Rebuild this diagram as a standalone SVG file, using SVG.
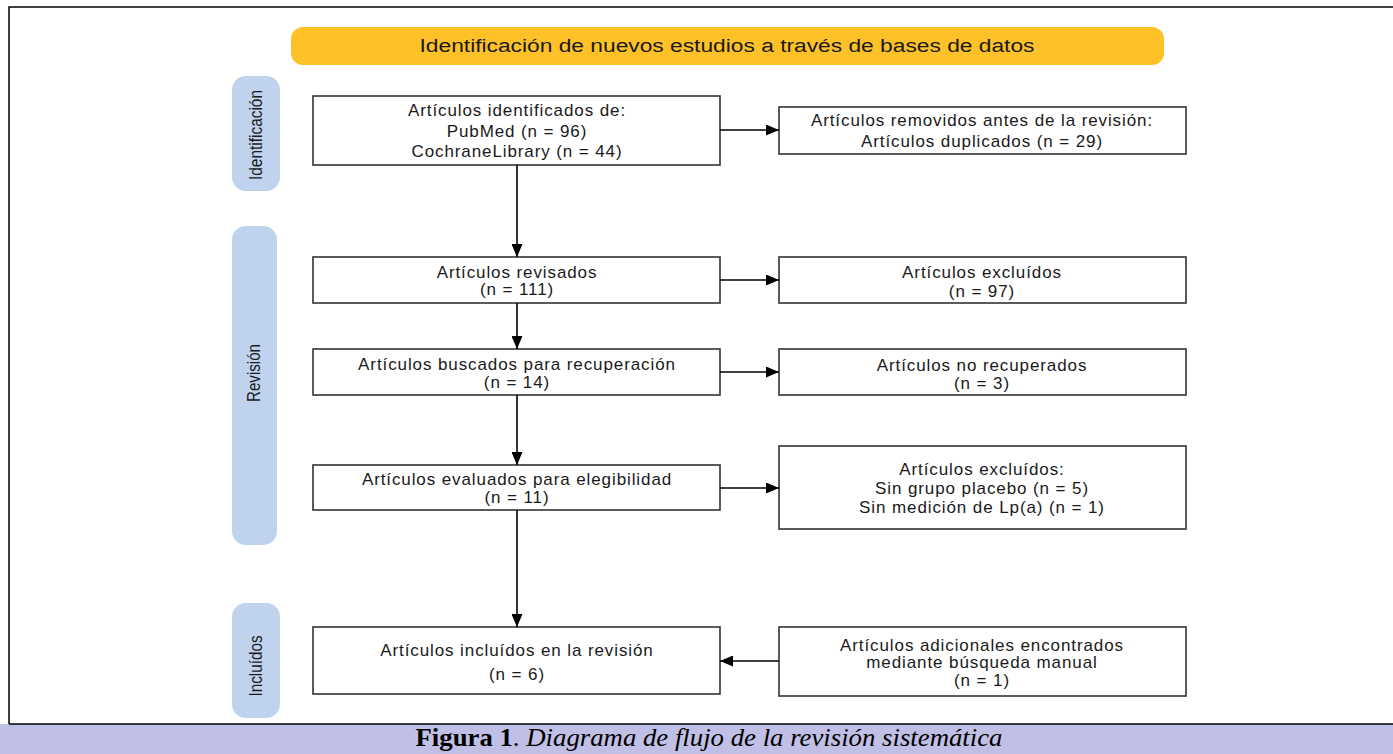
<svg xmlns="http://www.w3.org/2000/svg" width="1393" height="754" viewBox="0 0 1393 754">
<defs>
<marker id="ah" viewBox="0 0 13 11" refX="13" refY="5.5" markerWidth="13" markerHeight="11" markerUnits="userSpaceOnUse" orient="auto">
<path d="M0,0 L13,5.5 L0,11 Z" fill="#000"/>
</marker>
<style>
.box{fill:#fff;stroke:#333;stroke-width:1.6}
.t{font-family:"Liberation Sans",Arial,sans-serif;font-size:17px;letter-spacing:0.9px;fill:#1a1a1a;text-anchor:middle}
.side{fill:#bfd3ee}
.st{font-family:"Liberation Sans",Arial,sans-serif;font-size:18px;fill:#1a1a1a;text-anchor:middle}
.c{stroke:#000;stroke-width:1.6;fill:none;marker-end:url(#ah)}
</style>
</defs>
<rect x="0" y="0" width="1393" height="754" fill="#fff"/>
<rect x="9" y="7" width="1390" height="740" fill="none" stroke="#000" stroke-width="1.5"/>
<rect x="0" y="724" width="1393" height="30" fill="#c0bfe6"/>
<line x1="9" y1="724" x2="1393" y2="724" stroke="#000" stroke-width="1.5"/>
<text x="709" y="746" font-family="'Liberation Serif','Times New Roman',serif" font-size="25" text-anchor="middle" fill="#000" textLength="587" lengthAdjust="spacingAndGlyphs"><tspan font-weight="bold">Figura 1</tspan>. <tspan font-style="italic">Diagrama de flujo de la revisión sistemática</tspan></text>

<g id="banner">
<rect x="291" y="27" width="873" height="38" rx="12" fill="#fec127"/>
<text x="727" y="52" class="st" font-size="20" textLength="615" lengthAdjust="spacingAndGlyphs">Identificación de nuevos estudios a través de bases de datos</text>
</g>

<g id="side-identificacion">
<rect class="side" x="232" y="76" width="48" height="115" rx="14"/>
<text class="st" transform="translate(262,135) rotate(-90)" textLength="90" lengthAdjust="spacingAndGlyphs">Identificación</text>
</g>
<g id="side-revision">
<rect class="side" x="232" y="226" width="45" height="319" rx="14"/>
<text class="st" transform="translate(260,373) rotate(-90)" textLength="58" lengthAdjust="spacingAndGlyphs">Revisión</text>
</g>
<g id="side-incluidos">
<rect class="side" x="232" y="603" width="48" height="115" rx="14"/>
<text class="st" transform="translate(262,666) rotate(-90)" textLength="61" lengthAdjust="spacingAndGlyphs">Incluídos</text>
</g>

<g id="n1">
<rect class="box" x="313" y="96" width="407" height="69"/>
<text class="t" x="517" y="116">Artículos identificados de:</text>
<text class="t" x="517" y="137">PubMed (n = 96)</text>
<text class="t" x="517" y="157">CochraneLibrary (n = 44)</text>
</g>
<g id="n1r">
<rect class="box" x="779" y="107" width="407" height="47"/>
<text class="t" x="982" y="126">Artículos removidos antes de la revisión:</text>
<text class="t" x="982" y="147">Artículos duplicados (n = 29)</text>
</g>
<g id="n2">
<rect class="box" x="313" y="257" width="407" height="46"/>
<text class="t" x="517" y="278">Artículos revisados</text>
<text class="t" x="517" y="295">(n = 111)</text>
</g>
<g id="n2r">
<rect class="box" x="779" y="257" width="407" height="46"/>
<text class="t" x="982" y="278">Artículos excluídos</text>
<text class="t" x="982" y="297">(n = 97)</text>
</g>
<g id="n3">
<rect class="box" x="313" y="349" width="407" height="46"/>
<text class="t" x="517" y="370">Artículos buscados para recuperación</text>
<text class="t" x="517" y="388">(n = 14)</text>
</g>
<g id="n3r">
<rect class="box" x="779" y="349" width="407" height="46"/>
<text class="t" x="982" y="371">Artículos no recuperados</text>
<text class="t" x="982" y="389">(n = 3)</text>
</g>
<g id="n4">
<rect class="box" x="313" y="465" width="407" height="45"/>
<text class="t" x="517" y="485">Artículos evaluados para elegibilidad</text>
<text class="t" x="517" y="503">(n = 11)</text>
</g>
<g id="n4r">
<rect class="box" x="779" y="446" width="407" height="83"/>
<text class="t" x="982" y="475">Artículos excluídos:</text>
<text class="t" x="982" y="494">Sin grupo placebo (n = 5)</text>
<text class="t" x="982" y="513">Sin medición de Lp(a) (n = 1)</text>
</g>
<g id="n5">
<rect class="box" x="313" y="627" width="407" height="67"/>
<text class="t" x="517" y="656">Artículos incluídos en la revisión</text>
<text class="t" x="517" y="680">(n = 6)</text>
</g>
<g id="n5r">
<rect class="box" x="779" y="627" width="407" height="69"/>
<text class="t" x="982" y="651">Artículos adicionales encontrados</text>
<text class="t" x="982" y="668">mediante búsqueda manual</text>
<text class="t" x="982" y="686">(n = 1)</text>
</g>

<g id="connectors">
<line class="c" x1="517" y1="165" x2="517" y2="257"/>
<line class="c" x1="517" y1="303" x2="517" y2="349"/>
<line class="c" x1="517" y1="395" x2="517" y2="465"/>
<line class="c" x1="517" y1="510" x2="517" y2="627"/>
<line class="c" x1="720" y1="130" x2="779" y2="130"/>
<line class="c" x1="720" y1="280" x2="779" y2="280"/>
<line class="c" x1="720" y1="372" x2="779" y2="372"/>
<line class="c" x1="720" y1="488" x2="779" y2="488"/>
<line class="c" x1="779" y1="661" x2="720" y2="661"/>
</g>
</svg>
